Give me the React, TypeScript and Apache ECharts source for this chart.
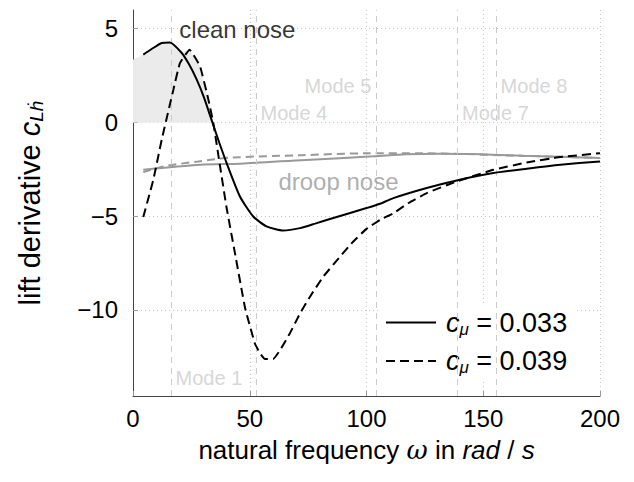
import React, { useEffect, useRef } from 'react';
import * as echarts from 'echarts';

// ---- data ----
const cleanOmega033 = [4.4, 8, 12.3, 15.8, 20.8, 24, 27.3, 30.5, 34, 37, 40.1, 45.8, 51.5, 57.2, 64.4, 71.5, 78, 85.8, 93, 100, 105.8, 111.5, 125.8, 140, 154.3, 168.6, 183, 200];
const cleanLift033 = [3.62, 3.92, 4.24, 4.27, 3.72, 3.1, 2.28, 1.3, 0.0, -1.1, -2.17, -3.95, -5.02, -5.55, -5.77, -5.64, -5.4, -5.1, -4.83, -4.57, -4.34, -4.04, -3.5, -3.06, -2.7, -2.47, -2.26, -2.08];

const cleanOmega039 = [4.4, 8.7, 12.3, 17.3, 20.1, 24.2, 28.7, 32.3, 34.4, 37.3, 40, 43.7, 48, 52.2, 54.4, 56.5, 60, 63, 67.2, 71.5, 75.8, 81.5, 88.7, 94, 100, 105.8, 111.5, 118, 125.8, 138.6, 154.3, 168.6, 183, 200];
const cleanLift039 = [-5.05, -3.06, -0.92, 1.75, 3.17, 3.88, 3.0, 1.21, -0.03, -2.35, -4.5, -7.0, -9.9, -11.8, -12.32, -12.63, -12.63, -12.15, -11.25, -10.2, -9.3, -8.23, -7.16, -6.4, -5.68, -5.2, -4.85, -4.3, -3.77, -3.15, -2.53, -2.14, -1.85, -1.64];

const droopOmega033 = [4.4, 29, 46, 74, 103, 117, 131, 146, 167, 183, 200];
const droopLift033 = [-2.53, -2.26, -2.2, -2.0, -1.81, -1.7, -1.67, -1.69, -1.78, -1.83, -1.9];

const droopOmega039 = [4.4, 13, 28, 42, 72, 100, 125, 140, 160, 180, 200];
const droopLift039 = [-2.65, -2.35, -2.08, -1.88, -1.75, -1.65, -1.65, -1.68, -1.76, -1.83, -1.9];

const shadeOmega = [0, 4.4, 12.3, 15.8, 20.8, 24.2, 28.7, 32.3, 34.4];
const shadeLift = [3.35, 3.62, 4.24, 4.27, 3.75, 3.88, 3.0, 1.21, 0];

const modeNames = ['Mode 1', 'Mode 4', 'Mode 5', 'Mode 7', 'Mode 8'];
const modeFreqs = [16.3, 52.7, 104, 139, 155.5];
const modeLabelLevels = [-13.65, 0.52, 1.96, 0.52, 1.96];
const modeLabelSides = ['right', 'right', 'left', 'right', 'right'];

const noteTexts = ['clean nose', 'droop nose'];
const noteOmega = [44.7, 88];
const noteLift = [4.95, -3.15];
const noteColors = ['#000000', '#999999'];

const xTicks = [0, 50, 100, 150, 200];
const seriesNames = ['cμ = 0.033', 'cμ = 0.039'];

const FONT = '"Liberation Sans", Arial, Helvetica, "DejaVu Sans", sans-serif';

const zip = (xs: number[], ys: number[]) => xs.map((x, i) => [x, ys[i]]);

export default function App() {
  const ref = useRef<HTMLDivElement>(null);
  useEffect(() => {
    if (!ref.current) return;
    const chart = echarts.init(ref.current, undefined, { renderer: 'svg' });
    const option: any = {
      animation: false,
      backgroundColor: '#ffffff',
      textStyle: { fontFamily: FONT },
      grid: { left: 133, right: 34, top: 10, bottom: 86, containLabel: false },
      legend: {
        data: seriesNames,
        orient: 'vertical',
        left: 378,
        top: 303,
        backgroundColor: '#ffffff',
        padding: [6, 10, 6, 7],
        itemWidth: 50,
        itemHeight: 14,
        itemGap: 10,
        selectedMode: false,
        itemStyle: { color: 'rgba(0,0,0,0)', borderWidth: 0, opacity: 0 },
        formatter: (name: string) => `{i|c}{s|μ}{n| = ${name.split('= ')[1]}}`,
        textStyle: {
          color: '#000',
          fontFamily: FONT,
          fontSize: 27,
          rich: {
            i: { fontStyle: 'italic', fontSize: 27, fontFamily: FONT, lineHeight: 30, padding: [0, 0, 0, 5] },
            s: { fontStyle: 'italic', fontSize: 17, fontFamily: FONT, lineHeight: 18, verticalAlign: 'bottom' },
            n: { fontSize: 27, fontFamily: FONT, lineHeight: 30 },
          },
        },
      },
      xAxis: {
        type: 'value',
        min: xTicks[0],
        max: xTicks[xTicks.length - 1],
        interval: xTicks[1] - xTicks[0],
        axisLine: { show: true, onZero: false, lineStyle: { color: '#444', width: 1 } },
        axisTick: { show: true, inside: true, length: 5, lineStyle: { color: '#999' } },
        axisLabel: { color: '#000', fontSize: 24, margin: 10, fontFamily: FONT },
        splitLine: { show: true, showMinLine: false, lineStyle: { color: '#c8c8c8', type: [1, 3], width: 1 } },
        name: '{t|natural frequency }{w|ω}{t| in }{i|rad}{t| / }{i|s}',
        nameLocation: 'middle',
        nameGap: 41,
        nameTextStyle: {
          color: '#000',
          fontFamily: FONT,
          rich: {
            t: { fontSize: 26, fontFamily: FONT, color: '#000' },
            w: { fontSize: 26, fontFamily: '"DejaVu Serif", serif', fontStyle: 'italic', color: '#000' },
            i: { fontSize: 26, fontFamily: FONT, fontStyle: 'italic', color: '#000' },
          },
        },
      },
      yAxis: {
        type: 'value',
        min: -14.6,
        max: 6,
        splitNumber: 5,
        axisLine: { show: true, onZero: false, lineStyle: { color: '#444', width: 1 } },
        axisTick: { show: true, inside: true, length: 5, lineStyle: { color: '#999' } },
        axisLabel: {
          color: '#000',
          fontSize: 24,
          margin: 15,
          fontFamily: FONT,
          showMinLabel: false,
          showMaxLabel: false,
          formatter: (v: number) => (v < 0 ? '\u2212' + Math.abs(v) : String(v)),
        },
        splitLine: { show: true, showMinLine: false, showMaxLine: false, lineStyle: { color: '#c8c8c8', type: [1, 3], width: 1 } },
        name: '{t|lift derivative }{i|c}{s|Lḣ}',
        nameLocation: 'middle',
        nameRotate: 90,
        nameGap: 87,
        nameTextStyle: {
          color: '#000',
          fontFamily: FONT,
          rich: {
            t: { fontSize: 29, fontFamily: FONT, lineHeight: 32, color: '#000' },
            i: { fontSize: 29, fontFamily: FONT, fontStyle: 'italic', lineHeight: 32, color: '#000' },
            s: { fontSize: 19, fontFamily: FONT, fontStyle: 'italic', lineHeight: 20, verticalAlign: 'bottom', color: '#000' },
          },
        },
      },
      series: [
        {
          name: 'shade',
          type: 'line',
          data: zip(shadeOmega, shadeLift),
          symbol: 'none',
          silent: true,
          lineStyle: { width: 0, color: '#ebebeb' },
          areaStyle: { color: '#ebebeb', opacity: 1 },
          z: 1,
          markLine: {
            silent: true,
            symbol: ['none', 'none'],
            label: { show: false },
            lineStyle: { color: '#cccccc', type: [6, 5], width: 1 },
            data: modeFreqs.map((x) => ({ xAxis: x })),
          },
        },
        {
          name: 'modeLabels',
          type: 'scatter',
          symbolSize: 1,
          silent: true,
          itemStyle: { color: 'rgba(0,0,0,0)' },
          data: modeFreqs.map((x, i) => ({
            value: [x, modeLabelLevels[i]],
            label: {
              show: true,
              formatter: modeNames[i],
              position: modeLabelSides[i],
              distance: 4,
              color: '#cccccc',
              fontSize: 20,
              fontFamily: FONT,
            },
          })),
          z: 3,
        },
        {
          name: 'notes',
          type: 'scatter',
          symbolSize: 1,
          silent: true,
          itemStyle: { color: 'rgba(0,0,0,0)' },
          data: noteTexts.map((t, i) => ({
            value: [noteOmega[i], noteLift[i]],
            label: {
              show: true,
              formatter: t,
              position: 'inside',
              color: noteColors[i],
              fontSize: 24,
              fontFamily: FONT,
            },
          })),
          z: 6,
        },
        {
          name: 'droop033',
          type: 'line',
          data: zip(droopOmega033, droopLift033),
          symbol: 'none',
          smooth: 0.3,
          lineStyle: { color: '#999999', width: 2 },
          z: 4,
        },
        {
          name: 'droop039',
          type: 'line',
          data: zip(droopOmega039, droopLift039),
          symbol: 'none',
          smooth: 0.3,
          lineStyle: { color: '#999999', width: 2, type: [8, 5] },
          z: 4,
        },
        {
          name: seriesNames[0],
          type: 'line',
          data: zip(cleanOmega033, cleanLift033),
          symbol: 'none',
          smooth: 0.2,
          lineStyle: { color: '#000000', width: 2 },
          itemStyle: { color: '#000000' },
          z: 5,
        },
        {
          name: seriesNames[1],
          type: 'line',
          data: zip(cleanOmega039, cleanLift039),
          symbol: 'none',
          smooth: 0.1,
          lineStyle: { color: '#000000', width: 2, type: [9, 5] },
          itemStyle: { color: '#000000' },
          z: 5,
        },
      ],
    };
    chart.setOption(option);
    return () => chart.dispose();
  }, []);
  return (
    <div
      ref={ref}
      style={{ position: 'fixed', left: 0, top: 0, width: 634, height: 482, background: '#fff' }}
    />
  );
}
